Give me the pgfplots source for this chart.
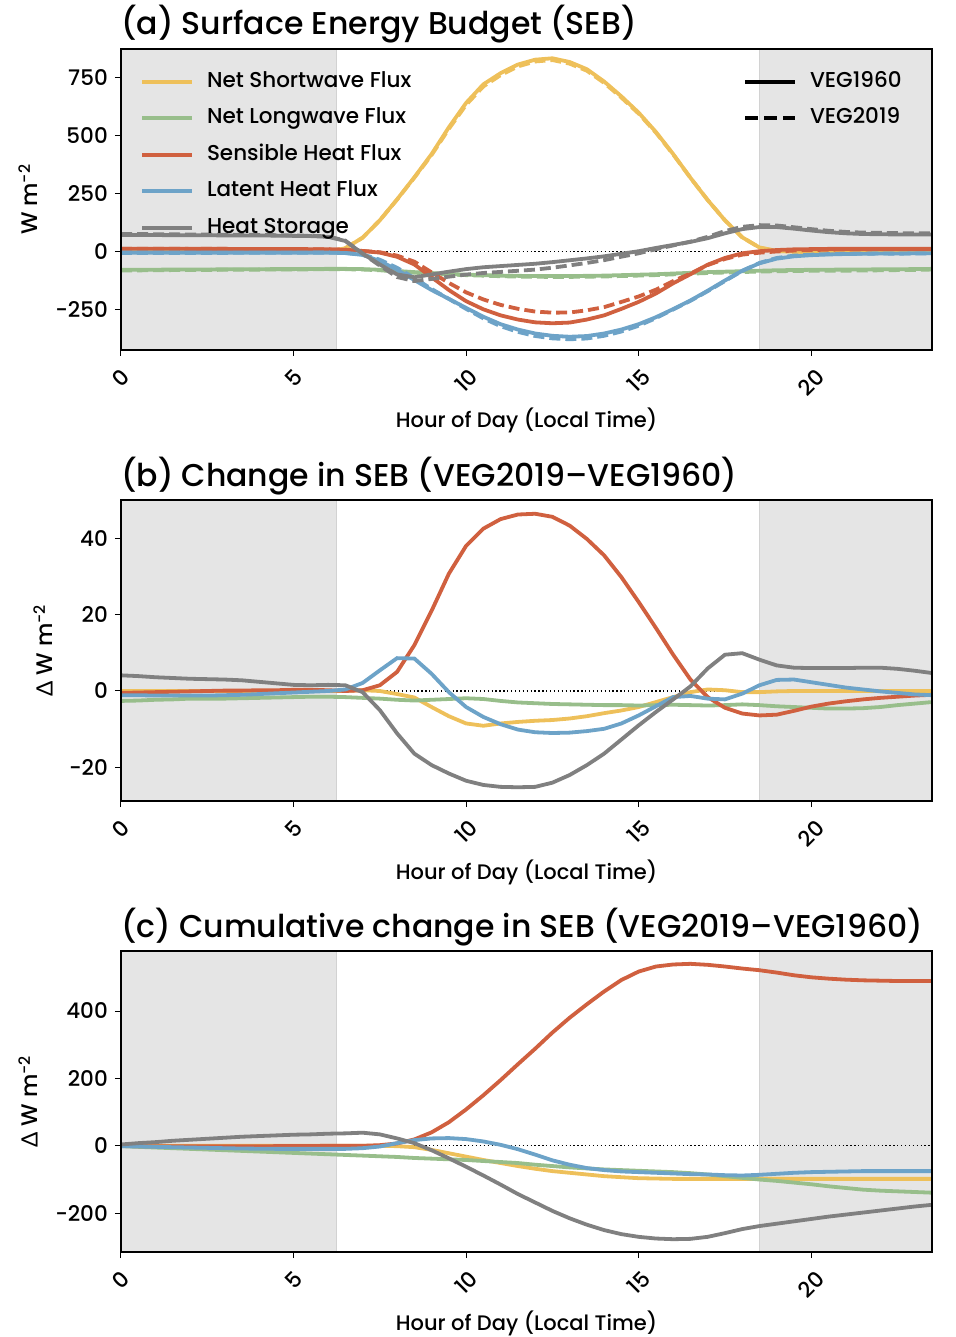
\documentclass[border=0pt]{standalone}
\usepackage{fontspec}
\setmainfont{Poppins}[UprightFont={* Medium}]
\newfontfamily\grk{Lato}
\usepackage{graphicx}
\usepackage{pgfplots}
\usepackage{pgfplotstable}
\pgfplotsset{compat=1.18}

\definecolor{cY}{HTML}{EEC05A}
\definecolor{cG}{HTML}{98BE8B}
\definecolor{cR}{HTML}{D0603F}
\definecolor{cB}{HTML}{6DA3C8}
\definecolor{cK}{HTML}{808080}
\definecolor{shade}{HTML}{E5E5E5}
\definecolor{shadeedge}{HTML}{D2D2D2}

\newcommand{\tickfont}{\fontsize{21.5}{26}\selectfont}
\newcommand{\labfont}{\fontsize{21}{26}\selectfont}
\newcommand{\ylabfont}{\fontsize{22.5}{27}\selectfont}
\newcommand{\legfont}{\fontsize{21.5}{26}\selectfont}
\newcommand{\titfont}{\fontsize{31.5}{38}\selectfont}

\pgfplotstableread{
h sw60 sw19 lw60 lw19 sh60 sh19 lh60 lh19 hs60 hs19
0 0 0 -78 -80.6 13 12.5 -4 -5.1 72 76.1
0.5 0 0 -78 -80.5 13 12.6 -4 -5.1 72 75.9
1 0 0 -77.5 -79.8 12.5 12.2 -4 -5.2 71.5 75.1
1.5 0 0 -77 -79.2 12.5 12.3 -4 -5.2 71 74.4
2 0 0 -77 -79 12 11.9 -4 -5.2 71 74.2
2.5 0 0 -76.5 -78.5 12 12 -4 -5.2 70.5 73.6
3 0 0 -76 -78 12 12.1 -4 -5.1 70 73
3.5 0 0 -76 -77.9 11.5 11.6 -4 -5 70 72.8
4 0 0 -75.5 -77.3 11.5 11.7 -4 -4.8 69.5 71.9
4.5 0 0 -75 -76.7 11 11.2 -4 -4.6 69 71
5 0 0 -75 -76.6 11 11.3 -4 -4.4 68 69.6
5.5 0 0 -74.5 -76 10.5 10.8 -4 -4.2 67 68.5
6 0 0 -74 -75.5 10 10.2 -4 -4 64 65.6
6.5 15 15 -74 -75.6 8 8 -6 -5.6 46 47.5
7 60 60 -75 -76.8 3 3.2 -14 -11.9 -8 -8.3
7.5 135 135 -78 -80 -4 -2.5 -40 -34.6 -55 -60
8 225 224.2 -83 -85.3 -22 -17 -78 -69.4 -98 -109.1
8.5 320 318.3 -88 -90.5 -55 -43 -122 -113.5 -110 -126.4
9 420 415.8 -92 -94.3 -110 -89 -165 -160.5 -98 -117.4
9.5 535 528.4 -96 -98.1 -165 -134.3 -203 -203.3 -86 -107.6
10 640 631.5 -99 -100.9 -213 -175 -242 -246.2 -75 -98.5
10.5 720 710.9 -101 -103.1 -248 -205.5 -280 -286.8 -67 -91.6
11 768 759.5 -103 -105.6 -274 -229 -312 -320.7 -62 -87.1
11.5 805 796.9 -104 -107 -292 -245.8 -335 -345.1 -57 -82.2
12 826 818.2 -105 -108.2 -304 -257.6 -352 -362.8 -52 -77.1
12.5 832 824.4 -105 -108.4 -308 -262.4 -362 -373 -45 -69
13 816 808.8 -105 -108.5 -305 -261.7 -366 -376.9 -37 -59
13.5 785 778.4 -104 -107.6 -292 -252.2 -363 -373.5 -29 -48.4
14 732 726.2 -103 -106.7 -274 -238.5 -352 -361.9 -20 -36.4
14.5 668 662.9 -101 -104.7 -246 -216.2 -335 -343.5 -9 -21.7
15 598 593.8 -99 -102.8 -216 -192.7 -312 -318.4 2 -7
15.5 515 512.1 -97 -100.7 -180 -163.5 -282 -286 16 10.5
16 420 418.4 -94 -97.6 -136 -126.5 -247 -248.6 29 26.8
16.5 318 317.7 -91 -94.7 -97 -94 -210 -211.3 42 43.2
17 222 222.4 -88 -91.8 -56 -57.6 -168 -170 58 63.9
17.5 135 135.2 -86 -89.7 -27 -31.4 -124 -126.2 79 88.5
18 62 61.7 -84 -87.5 -7 -12.9 -82 -82.7 97 106.9
18.5 18 17.7 -82 -85.7 2 -4.4 -50 -48.5 106 114.2
19 3 2.9 -80 -84 7 0.8 -30 -27.1 106 112.7
19.5 0 0 -79 -83.2 10 4.8 -20 -17 99 105.1
20 0 0 -78 -82.4 11 6.9 -15 -12.7 91 97
20.5 0 0 -77.5 -82.1 12 8.7 -12 -10.4 84 90
21 0 0 -77 -81.6 12 9.3 -10 -9.1 79 85
21.5 0 0 -76.5 -81 12 9.8 -9 -8.6 76 82.1
22 0 0 -76 -80.2 12 10.2 -8 -8.1 75 81.1
22.5 0 0 -75.5 -79.2 12 10.5 -8 -8.5 74 79.8
23 0 0 -75 -78.3 12 10.8 -7 -7.9 74 79.3
23.5 0 0 -74 -76.9 12 11 -7 -8.1 74 78.7
}\tA

\pgfplotstableread{
h dsw dlw dsh dlh dhs
0 0 -2.6 -0.5 -1.1 4.1
0.5 0 -2.5 -0.4 -1.1 3.9
1 0 -2.3 -0.3 -1.2 3.6
1.5 0 -2.2 -0.2 -1.2 3.4
2 0 -2.0 -0.1 -1.2 3.2
2.5 0 -2.0 0 -1.2 3.1
3 0 -2.0 0.1 -1.1 3.0
3.5 0 -1.9 0.1 -1.0 2.8
4 0 -1.8 0.2 -0.8 2.4
4.5 0 -1.7 0.2 -0.6 2.0
5 0 -1.6 0.3 -0.4 1.6
5.5 0 -1.5 0.3 -0.2 1.5
6 0 -1.5 0.2 0 1.6
6.5 0 -1.6 0 0.4 1.5
7 0.2 -1.8 0.2 2.1 -0.3
7.5 0 -2.0 1.5 5.4 -5.0
8 -0.8 -2.3 5 8.6 -11.1
8.5 -1.7 -2.5 12 8.5 -16.4
9 -4.2 -2.3 21 4.5 -19.4
9.5 -6.6 -2.1 30.7 -0.3 -21.6
10 -8.5 -1.9 38 -4.2 -23.5
10.5 -9.1 -2.1 42.5 -6.8 -24.6
11 -8.5 -2.6 45 -8.7 -25.1
11.5 -8.1 -3.0 46.2 -10.1 -25.2
12 -7.8 -3.2 46.4 -10.8 -25.1
12.5 -7.6 -3.4 45.6 -11 -24.0
13 -7.2 -3.5 43.3 -10.9 -22.0
13.5 -6.6 -3.6 39.8 -10.5 -19.4
14 -5.8 -3.7 35.5 -9.9 -16.4
14.5 -5.1 -3.7 29.8 -8.5 -12.7
15 -4.2 -3.8 23.3 -6.4 -9.0
15.5 -2.9 -3.7 16.5 -4.0 -5.5
16 -1.6 -3.6 9.5 -1.6 -2.2
16.5 -0.3 -3.7 3 -1.3 1.2
17 0.4 -3.8 -1.6 -2.0 5.9
17.5 0.2 -3.7 -4.4 -2.2 9.5
18 -0.3 -3.5 -5.9 -0.7 9.9
18.5 -0.3 -3.7 -6.4 1.5 8.2
19 -0.1 -4.0 -6.2 2.9 6.7
19.5 0 -4.2 -5.2 3.0 6.1
20 0 -4.4 -4.1 2.3 6.0
20.5 0 -4.6 -3.3 1.6 6.0
21 0 -4.6 -2.7 0.9 6.0
21.5 0 -4.5 -2.2 0.4 6.1
22 0 -4.2 -1.8 -0.1 6.1
22.5 0 -3.7 -1.5 -0.5 5.8
23 0 -3.3 -1.2 -0.9 5.3
23.5 0 -2.9 -1.0 -1.1 4.7
}\tB

\pgfplotstableread{
h csw clw csh clh chs
0 0 -1 -0.5 -1 4
0.5 0 -3 -0.9 -2 8
1 0 -5 -1.2 -3 11
1.5 0 -7 -1.4 -4 15
2 0 -9 -1.5 -5 18
2.5 0 -11 -1.5 -6 21
3 0 -13 -1.4 -7 24
3.5 0 -15 -1.3 -8 27
4 0 -17 -1.1 -8.5 29
4.5 0 -19 -0.9 -9 31
5 0 -21 -0.6 -9 33
5.5 0 -23 -0.3 -9 34
6 0 -25 -0.1 -9 36
6.5 0 -27 -0.1 -9 37
7 0.2 -29 0.1 -7 39
7.5 0.2 -31 2 -2 34
8 -1 -33 7 8 22
8.5 -4 -36 19 17 8
9 -12 -38 40 22 -13
9.5 -22 -40 70 23 -37
10 -32 -42 108 20 -62
10.5 -42 -45 150 13 -88
11 -51 -48 195 3 -115
11.5 -60 -51 242 -10 -143
12 -68 -56 288 -26 -168
12.5 -75 -60 336 -43 -193
13 -80 -64 380 -56 -215
13.5 -85 -67 420 -66 -234
14 -90 -70 458 -72 -250
14.5 -93 -72 492 -76 -262
15 -96 -74 517 -78 -270
15.5 -97 -76 532 -80 -275
16 -98 -78 538 -82 -277
16.5 -98 -81 540 -84 -276
17 -98 -85 537 -85 -270
17.5 -98 -90 532 -87 -259
18 -98 -95 526 -88 -247
18.5 -98 -100 521 -86 -238
19 -98 -104 514 -83 -231
19.5 -98 -109 506 -80 -224
20 -98 -114 500 -78 -217
20.5 -98 -120 496 -77 -210
21 -98 -125 493 -76 -204
21.5 -98 -130 491 -75 -198
22 -98 -133 490 -75 -192
22.5 -98 -135 489 -75 -186
23 -98 -137 489 -75 -180
23.5 -98 -139 489 -75 -175
}\tC

\pgfplotsset{
  seb/.style={
    scale only axis, width=811pt, height=301pt,
    xmin=0, xmax=23.5,
    xtick={0,5,10,15,20},
    xticklabels={\rotatebox{45}{0},\rotatebox{45}{5},\rotatebox{45}{10},\rotatebox{45}{15},\rotatebox{45}{20}},
    tick align=outside, tick pos=left,
    major tick length=6pt,
    every tick/.style={black, line width=1pt},
    axis line style={black, line width=1.2pt},
    axis on top,
    ticklabel style={font=\tickfont},
    xticklabel style={anchor=north, inner sep=0pt, yshift=-11pt},
    yticklabel style={anchor=east, inner sep=0pt, xshift=-7pt},
    xlabel={Hour of Day (Local Time)},
    xlabel style={font=\labfont, at={(axis description cs:0.5,0)}, anchor=base, yshift=-78pt},
    ylabel style={font=\ylabfont, anchor=center},
    title style={font=\titfont, at={(axis description cs:0,1)}, anchor=base west, yshift=8pt, inner sep=0pt},
    legend image code/.code={\draw[#1] (0pt,0pt) -- (50pt,0pt);},
  },
  ln/.style={line width=3.8pt},
  zeroline/.style={black, line width=1.3pt, dash pattern=on 1.3pt off 2.6pt, forget plot},
  dsh/.style={dash pattern=on 11pt off 5pt, forget plot},
  legbase/.style={legend style={draw=none, fill=none, at={(axis description cs:0,1)}, anchor=north west,
    yshift=-22pt, inner sep=0pt, font=\legfont, row sep=15.5pt,
    nodes={inner sep=0pt, text height=16pt, text depth=5pt},
    /tikz/every odd column/.append style={column sep=13pt}},
    legend cell align=left},
}

\begin{document}
\begin{tikzpicture}
% ---------------- (a) ----------------
\begin{axis}[seb, at={(0pt,0pt)},
  ymin=-423, ymax=872,
  ytick={-250,0,250,500,750},
  yticklabels={−250,0,250,500,750},
  ylabel={W m\textsuperscript{−2}},
  ylabel style={at={(axis description cs:-0.1147,0.5)}},
  title={(a) Surface Energy Budget (SEB)},
  legbase, legend style={xshift=19pt},
]
\addplot[draw=shadeedge, line width=1pt, fill=shade, forget plot] coordinates {(0,-423) (6.25,-423) (6.25,872) (0,872)} -- cycle;
\addplot[draw=shadeedge, line width=1pt, fill=shade, forget plot] coordinates {(18.5,-423) (23.6,-423) (23.6,872) (18.5,872)} -- cycle;
\addplot[zeroline] coordinates {(0,0) (23.5,0)};
\addplot[cY, ln] table[x=h, y=sw60] {\tA}; \addlegendentry{Net Shortwave Flux}
\addplot[cY, ln, dsh] table[x=h, y=sw19] {\tA};
\addplot[cG, ln] table[x=h, y=lw60] {\tA}; \addlegendentry{Net Longwave Flux}
\addplot[cG, ln, dsh] table[x=h, y=lw19] {\tA};
\addplot[cR, ln] table[x=h, y=sh60] {\tA}; \addlegendentry{Sensible Heat Flux}
\addplot[cR, ln, dsh] table[x=h, y=sh19] {\tA};
\addplot[cB, ln] table[x=h, y=lh60] {\tA}; \addlegendentry{Latent Heat Flux}
\addplot[cB, ln, dsh] table[x=h, y=lh19] {\tA};
\addplot[cK, ln] table[x=h, y=hs60] {\tA}; \addlegendentry{Heat Storage}
\addplot[cK, ln, dsh] table[x=h, y=hs19] {\tA};
\end{axis}
% second legend
\begin{axis}[at={(0pt,0pt)}, scale only axis, width=811pt, height=301pt, hide axis,
  xmin=0, xmax=1, ymin=0, ymax=1,
  legend image code/.code={\draw[#1] (0pt,0pt) -- (50pt,0pt);},
  legbase, legend style={xshift=622pt},
]
\addlegendimage{black, line width=3.8pt}
\addlegendentry{VEG1960}
\addlegendimage{black, line width=3.8pt, dash pattern=on 13pt off 6pt}
\addlegendentry{VEG2019}
\end{axis}
% ---------------- (b) ----------------
\begin{axis}[seb, at={(0pt,-451pt)},
  ymin=-28.8, ymax=50,
  ytick={-20,0,20,40},
  yticklabels={−20,0,20,40},
  ylabel={{\grk Δ} W m\textsuperscript{−2}},
  ylabel style={at={(axis description cs:-0.0962,0.5)}},
  title={(b) Change in SEB (VEG2019–VEG1960)},
]
\addplot[draw=shadeedge, line width=1pt, fill=shade, forget plot] coordinates {(0,-28.8) (6.25,-28.8) (6.25,50) (0,50)} -- cycle;
\addplot[draw=shadeedge, line width=1pt, fill=shade, forget plot] coordinates {(18.5,-28.8) (23.6,-28.8) (23.6,50) (18.5,50)} -- cycle;
\addplot[zeroline] coordinates {(0,0) (23.5,0)};
\addplot[cY, ln] table[x=h, y=dsw] {\tB};
\addplot[cG, ln] table[x=h, y=dlw] {\tB};
\addplot[cR, ln] table[x=h, y=dsh] {\tB};
\addplot[cB, ln] table[x=h, y=dlh] {\tB};
\addplot[cK, ln] table[x=h, y=dhs] {\tB};
\end{axis}
% ---------------- (c) ----------------
\begin{axis}[seb, at={(0pt,-902pt)},
  ymin=-315, ymax=578,
  ytick={-200,0,200,400},
  yticklabels={−200,0,200,400},
  ylabel={{\grk Δ} W m\textsuperscript{−2}},
  ylabel style={at={(axis description cs:-0.1147,0.5)}},
  title={(c) Cumulative change in SEB (VEG2019–VEG1960)},
]
\addplot[draw=shadeedge, line width=1pt, fill=shade, forget plot] coordinates {(0,-315) (6.25,-315) (6.25,578) (0,578)} -- cycle;
\addplot[draw=shadeedge, line width=1pt, fill=shade, forget plot] coordinates {(18.5,-315) (23.6,-315) (23.6,578) (18.5,578)} -- cycle;
\addplot[zeroline] coordinates {(0,0) (23.5,0)};
\addplot[cY, ln] table[x=h, y=csw] {\tC};
\addplot[cG, ln] table[x=h, y=clw] {\tC};
\addplot[cR, ln] table[x=h, y=csh] {\tC};
\addplot[cB, ln] table[x=h, y=clh] {\tC};
\addplot[cK, ln] table[x=h, y=chs] {\tC};
\end{axis}
\pgfresetboundingbox
\path (-121pt,350pt) rectangle (834pt,-987pt);
\end{tikzpicture}
\end{document}
